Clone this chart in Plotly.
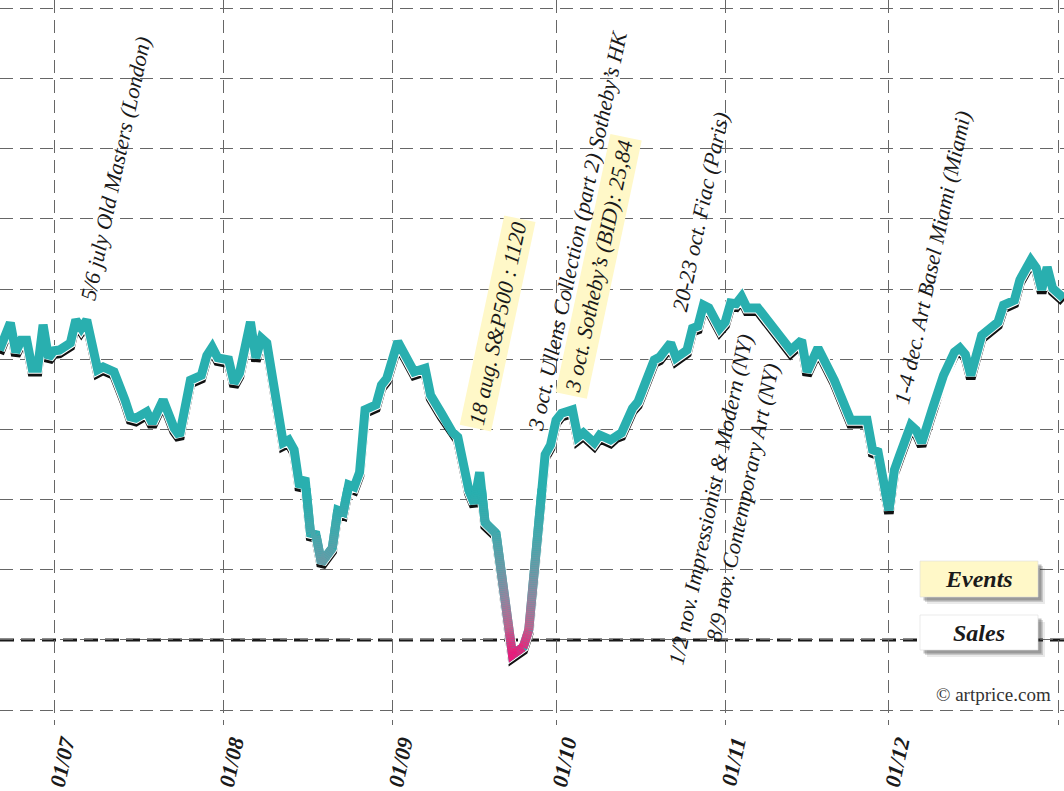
import numpy as np
import pandas as pd
import plotly.graph_objects as go

# ---------------- data ----------------
dates = [
    "2011-06-21", "2011-06-23", "2011-06-24", "2011-06-25", "2011-06-26", "2011-06-27",
    "2011-06-28", "2011-06-29", "2011-06-30", "2011-07-01", "2011-07-02", "2011-07-04",
    "2011-07-05", "2011-07-06", "2011-07-07", "2011-07-09", "2011-07-10", "2011-07-12",
    "2011-07-14", "2011-07-15", "2011-07-16", "2011-07-18", "2011-07-19", "2011-07-21",
    "2011-07-23", "2011-07-24", "2011-07-26", "2011-07-28", "2011-07-29", "2011-07-30",
    "2011-07-31", "2011-08-02", "2011-08-03", "2011-08-04", "2011-08-06", "2011-08-07",
    "2011-08-08", "2011-08-09", "2011-08-12", "2011-08-13", "2011-08-14", "2011-08-15",
    "2011-08-16", "2011-08-17", "2011-08-18", "2011-08-19", "2011-08-21", "2011-08-22",
    "2011-08-23", "2011-08-24", "2011-08-25", "2011-08-26", "2011-08-27", "2011-08-29",
    "2011-08-30", "2011-08-31", "2011-09-02", "2011-09-03", "2011-09-04", "2011-09-05",
    "2011-09-07", "2011-09-08", "2011-09-10", "2011-09-12", "2011-09-13", "2011-09-15",
    "2011-09-16", "2011-09-17", "2011-09-18", "2011-09-20", "2011-09-23", "2011-09-25",
    "2011-09-26", "2011-09-29", "2011-09-30", "2011-10-01", "2011-10-02", "2011-10-04",
    "2011-10-05", "2011-10-06", "2011-10-08", "2011-10-09", "2011-10-11", "2011-10-12",
    "2011-10-13", "2011-10-15", "2011-10-16", "2011-10-17", "2011-10-19", "2011-10-20",
    "2011-10-22", "2011-10-23", "2011-10-24", "2011-10-25", "2011-10-26", "2011-10-27",
    "2011-10-28", "2011-10-29", "2011-10-31", "2011-11-01", "2011-11-02", "2011-11-03",
    "2011-11-04", "2011-11-05", "2011-11-07", "2011-11-10", "2011-11-11", "2011-11-13",
    "2011-11-15", "2011-11-16", "2011-11-18", "2011-11-21", "2011-11-24", "2011-11-27",
    "2011-11-28", "2011-11-29", "2011-12-01", "2011-12-02", "2011-12-03", "2011-12-05",
    "2011-12-06", "2011-12-07", "2011-12-09", "2011-12-10", "2011-12-11", "2011-12-13",
    "2011-12-14", "2011-12-15", "2011-12-16", "2011-12-18", "2011-12-21", "2011-12-22",
    "2011-12-24", "2011-12-25", "2011-12-27", "2011-12-28", "2011-12-29", "2011-12-30",
    "2011-12-31", "2012-01-02",
]
sales_index = [
    141.3, 145.2, 141.0, 142.7, 142.7, 138.7,
    138.7, 144.9, 140.2, 141.2, 141.3, 142.3,
    145.6, 144.4, 145.6, 138.5, 138.9, 138.2,
    134.2, 131.8, 131.6, 132.5, 130.9, 134.2,
    130.2, 129.1, 137.0, 137.7, 140.5, 141.7,
    140.2, 139.9, 136.6, 138.0, 145.3, 140.2,
    143.0, 142.3, 128.1, 128.5, 127.1, 121.8,
    123.1, 115.2, 115.0, 111.0, 113.1, 118.5,
    118.2, 122.1, 121.8, 123.9, 132.8, 133.5,
    136.3, 137.3, 142.5, 141.0, 139.5, 138.2,
    138.7, 134.9, 132.3, 129.6, 128.9, 121.4,
    119.5, 123.9, 116.7, 115.2, 97.9, 99.0,
    101.4, 126.4, 127.8, 131.3, 132.3, 132.8,
    128.9, 129.5, 128.1, 129.2, 128.5, 129.2,
    129.5, 133.0, 133.9, 135.9, 139.9, 140.3,
    142.3, 140.2, 140.9, 141.3, 144.4, 144.7,
    147.7, 147.3, 144.4, 145.3, 148.0, 147.9,
    148.9, 147.3, 147.3, 144.2, 143.4, 141.3,
    142.7, 138.2, 141.6, 137.0, 131.3, 131.3,
    127.1, 126.8, 118.5, 124.2, 126.4, 130.6,
    129.9, 128.1, 133.0, 135.2, 137.7, 141.0,
    141.6, 140.7, 137.7, 143.4, 145.3, 147.7,
    148.4, 151.3, 154.1, 153.0, 149.9, 153.1,
    150.1, 148.7,
]

month_ticks = ["2011-07-01", "2011-08-01", "2011-09-01", "2011-10-01",
               "2011-11-01", "2011-12-01", "2012-01-01"]
month_labels = ["01/07", "01/08", "01/09", "01/10", "01/11", "01/12", ""]
grid_levels = [90, 100, 110, 120, 130, 140, 150, 160, 170, 180, 190]
base_level = 100

event_texts = [
    "5/6 july Old Masters (London)",
    "18 aug. S&P500 : 1120",
    "3 oct. Ullens Collection (part 2) Sotheby’s HK",
    "3 oct. Sotheby’s (BID): 25,84",
    "20-23 oct. Fiac (Paris)",
    "1/2 nov. Impressionist & Modern (NY)",
    "8/9 nov. Contemporary Art (NY)",
    "1-4 dec. Art Basel Miami (Miami)",
]
event_highlight = [False, True, False, True, False, False, False, False]

# ---------------- layout constants ----------------
W, H = 1064, 791
MB = 66
PLOT_H = H - MB
X_RANGE = ["2011-06-21 02:30", "2012-01-02 02:00"]
Y_RANGE = [87.89, 191.17]

TEAL = "#29afaf"
SERIF = "Liberation Serif"
YELLOW = "#fff8c8"

# label placement (pixel centres)
event_pos = [(116, 169), (498, 324), (577, 231), (599, 267),
             (700, 212), (710, 500), (742, 503), (933, 258)]


def px_to_paper(x, y):
    return x / W, 1 - y / PLOT_H


fig = go.Figure()

t = pd.to_datetime(pd.Series(dates))
v = np.array(sales_index, dtype=float)

days = (t - t.iloc[0]).dt.total_seconds().values / 86400.0
x_span_days = (pd.Timestamp(X_RANGE[1]) - pd.Timestamp(X_RANGE[0])).total_seconds() / 86400.0
XS = W / x_span_days
YS = PLOT_H / (Y_RANGE[1] - Y_RANGE[0])

LW = 9
# shadow + white outline + teal line
shadow_dy = 3.4 / YS
fig.add_trace(go.Scatter(x=t, y=v - shadow_dy, mode="lines",
                         line=dict(color="#111111", width=LW + 0.5),
                         hoverinfo="skip", showlegend=False))
fig.add_trace(go.Scatter(x=t, y=v, mode="lines",
                         line=dict(color="white", width=LW + 2),
                         hoverinfo="skip", showlegend=False))
fig.add_trace(go.Scatter(x=t, y=v, mode="lines",
                         line=dict(color=TEAL, width=LW),
                         hoverinfo="skip", showlegend=False))

# gradient colouring of the low part of the line (colour depends on level)
stops_v = [97.5, 99.5, 102.0, 106.0, 110.0, 115.0, 121.0]
stops_c = [(236, 22, 122), (224, 48, 127), (192, 98, 142), (150, 132, 158),
           (112, 152, 166), (72, 167, 172), (41, 175, 175)]
stops_c = np.array(stops_c, dtype=float)


def level_color(val):
    r = np.interp(val, stops_v, stops_c[:, 0])
    g = np.interp(val, stops_v, stops_c[:, 1])
    b = np.interp(val, stops_v, stops_c[:, 2])
    return f"rgb({int(r)},{int(g)},{int(b)})"


pxx = days * XS
pyy = v * YS
s = np.concatenate([[0.0], np.cumsum(np.hypot(np.diff(pxx), np.diff(pyy)))])
step = 2.0
edges = np.arange(0.0, s[-1], step)
edges = np.append(edges, s[-1])
buckets = {}
for a, b in zip(edges[:-1], edges[1:]):
    vm = np.interp((a + b) / 2, s, v)
    if vm > 121.5:
        continue
    inner = s[(s > a) & (s < b)]
    ss = np.concatenate([[a], inner, [b]])
    dd = np.interp(ss, s, days)
    vv = np.interp(ss, s, v)
    key = round(vm * 2) / 2
    bx, by = buckets.setdefault(key, ([], []))
    bx.extend(list(t.iloc[0] + pd.to_timedelta(dd, unit="D")) + [None])
    by.extend(list(vv) + [None])

for key in sorted(buckets):
    bx, by = buckets[key]
    fig.add_trace(go.Scatter(x=bx, y=by, mode="lines",
                             line=dict(color=level_color(key), width=LW),
                             hoverinfo="skip", showlegend=False))

# base reference line
fig.add_shape(type="line", xref="paper", yref="y", x0=0, x1=1,
              y0=base_level, y1=base_level, layer="between",
              line=dict(color="#1a1a1a", width=3, dash="14px,7px"))

# event labels
for txt, hl, (cx, cy) in zip(event_texts, event_highlight, event_pos):
    xp, yp = px_to_paper(cx, cy)
    fig.add_annotation(
        x=xp, y=yp, xref="paper", yref="paper", text=txt, showarrow=False,
        textangle=-78, xanchor="center", yanchor="middle",
        font=dict(family=SERIF, size=22, color="#1a1a1a", style="italic"),
        bgcolor=YELLOW if hl else "rgba(0,0,0,0)", borderpad=3,
    )

# legend-like boxes
boxes = [("Events", YELLOW, 920, 561, 1038, 597),
         ("Sales", "white", 920, 615, 1038, 650)]
for label, col, x0, y0, x1, y1 in boxes:
    for off, op in [(7, 0.10), (5, 0.18), (3.5, 0.30)]:
        a0, b0 = px_to_paper(x0 + off, y0 + off)
        a1, b1 = px_to_paper(x1 + off, y1 + off)
        fig.add_shape(type="rect", xref="paper", yref="paper",
                      x0=a0, x1=a1, y0=b1, y1=b0, layer="above",
                      line=dict(width=0), fillcolor="#333333", opacity=op)
    a0, b0 = px_to_paper(x0, y0)
    a1, b1 = px_to_paper(x1, y1)
    fig.add_shape(type="rect", xref="paper", yref="paper",
                  x0=a0, x1=a1, y0=b1, y1=b0, layer="above",
                  line=dict(width=0.6, color="#dddddd"), fillcolor=col)
    cxp, cyp = px_to_paper((x0 + x1) / 2, (y0 + y1) / 2)
    fig.add_annotation(x=cxp, y=cyp, xref="paper", yref="paper", text=label,
                       showarrow=False, xanchor="center", yanchor="middle",
                       font=dict(family=SERIF, size=24, color="#1a1a1a",
                                 style="italic", weight="bold"))

cxp, cyp = px_to_paper(1053, 694)
fig.add_annotation(x=cxp, y=cyp, xref="paper", yref="paper",
                   text="© artprice.com", showarrow=False,
                   xanchor="right", yanchor="middle",
                   font=dict(family=SERIF, size=19, color="#333333"))

fig.update_layout(
    width=W, height=H,
    margin=dict(l=0, r=0, t=0, b=MB),
    paper_bgcolor="white", plot_bgcolor="white",
    showlegend=False,
    xaxis=dict(type="date", range=X_RANGE, tickvals=month_ticks, ticktext=month_labels,
               tickangle=-78, ticklabelshift=10,
               showgrid=True, gridcolor="#666666", gridwidth=1.2,
               griddash="13px,7px", zeroline=False, showline=False, ticks="",
               tickfont=dict(family=SERIF, size=22, color="#1a1a1a", style="italic",
                             weight="bold"),
               fixedrange=True),
    yaxis=dict(range=Y_RANGE, tickvals=grid_levels, showticklabels=False,
               showgrid=True, gridcolor="#666666", gridwidth=1.2,
               griddash="13px,7px", zeroline=False, showline=False, ticks="",
               fixedrange=True),
)

fig.write_html("out.html")
